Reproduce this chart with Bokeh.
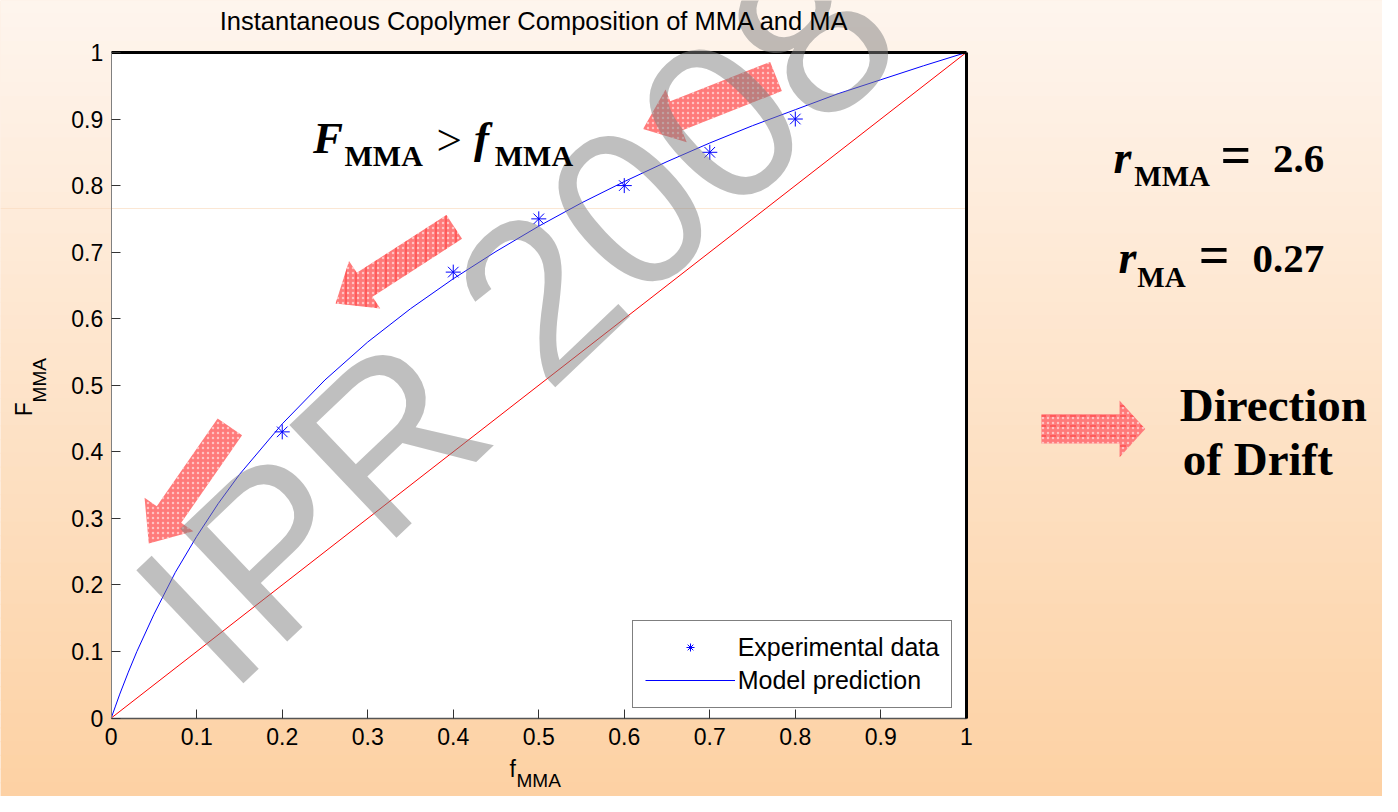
import math
from bokeh.plotting import figure
from bokeh.models import (LinearAxis, FixedTicker, Label, BoxAnnotation, PolyAnnotation,
                          Legend, LegendItem, Range1d)
from bokeh.embed import file_html
from bokeh.resources import INLINE

# ---------------- data ----------------
f_exp = [0.2, 0.4, 0.5, 0.6, 0.7, 0.8]
F_exp = [0.43, 0.67, 0.75, 0.80, 0.85, 0.90]

f_model = [0, 0.005, 0.01, 0.02, 0.03, 0.05, 0.075, 0.1, 0.125, 0.15, 0.2, 0.25, 0.3,
           0.35, 0.4, 0.45, 0.5, 0.55, 0.6, 0.65, 0.7, 0.75, 0.8, 0.85, 0.9, 0.95, 1.0]
F_model = [0, 0.018, 0.036, 0.069, 0.100, 0.156, 0.219, 0.273, 0.322, 0.366, 0.442, 0.508, 0.565,
           0.615, 0.660, 0.701, 0.739, 0.774, 0.806, 0.836, 0.864, 0.890, 0.914, 0.938, 0.959, 0.980, 1.0]

f_equal = [0, 1]
F_equal = [0, 1]

tick_vals = [0, 0.1, 0.2, 0.3, 0.4, 0.5, 0.6, 0.7, 0.8, 0.9, 1]
tick_labels = ["0", "0.1", "0.2", "0.3", "0.4", "0.5", "0.6", "0.7", "0.8", "0.9", "1"]

title_text = "Instantaneous Copolymer Composition of MMA and MA"
legend_labels = ["Experimental data", "Model prediction"]
watermark_text = "IPR 2008"

# ---------------- layout helpers ----------------
W, H = 1382, 796            # canvas; reference is 1398 x 812
RW, RH = 1398, 812
SX, SY = W / RW, H / RH
FL, FT, FR, FB = 112, 53, 977, 732   # plot box in reference pixels


def dx(px):
    return (px - FL) / (FR - FL)


def dy(py):
    return (FB - py) / (FB - FT)


p = figure(width=W, height=H,
           x_range=Range1d(dx(0), dx(RW)), y_range=Range1d(dy(RH), dy(0)),
           output_backend="svg", toolbar_location=None,
           min_border_left=0, min_border_right=0, min_border_top=0, min_border_bottom=0,
           background_fill_color="#FEE4CE", border_fill_color="#FEE4CE",
           outline_line_color=None)
p.title.visible = False
p.grid.visible = False

# ---------------- slide gradient background ----------------
top_c = (254, 245, 238)
bot_c = (253, 209, 163)
nb = 58
for i in range(nb):
    t = (i + 0.5) / nb
    c = tuple(int(round(top_c[k] + (bot_c[k] - top_c[k]) * t)) for k in range(3))
    y0 = i * RH / nb - 0.6
    y1 = (i + 1) * RH / nb + 0.6
    p.add_layout(BoxAnnotation(top=dy(y0), bottom=dy(y1),
                               fill_color="#%02x%02x%02x" % c, fill_alpha=1.0,
                               line_color=None, level="underlay"))
p.add_layout(BoxAnnotation(left=0, right=1, top=1, bottom=0, fill_color="white",
                           fill_alpha=1.0, line_color=None, level="underlay"))
p.add_layout(BoxAnnotation(right=dx(977), top=dy(211.6), bottom=dy(212.6),
                           fill_color="#F9DDC2", fill_alpha=0.7, line_color=None,
                           level="underlay"))

# ---------------- axes (placed at the plot box) ----------------
xa, ya = p.xaxis[0], p.yaxis[0]
xa.fixed_location = 0
ya.fixed_location = 0
for ax in (xa, ya):
    ax.bounds = (0, 1)
    ax.ticker = FixedTicker(ticks=tick_vals)
    ax.major_label_overrides = dict(zip(tick_vals, tick_labels))
    ax.major_label_text_font = "Liberation Sans"
    ax.major_label_text_font_size = "23px"
    ax.major_label_text_color = "black"
    ax.major_tick_in = 9
    ax.major_tick_out = 0
    ax.major_tick_line_color = "#333333"
    ax.minor_tick_line_color = None
ya.major_label_standoff = 8
xa.major_label_standoff = 10
ya.axis_line_color = "#808080"
ya.axis_line_width = 1
xa.axis_line_color = "#555555"
xa.axis_line_width = 1.5

for side in ("above", "right"):
    ax = LinearAxis(ticker=FixedTicker(ticks=[]), axis_line_color="black", axis_line_width=3,
                    major_label_text_font_size="0px", major_tick_line_color=None,
                    minor_tick_line_color=None, fixed_location=1, bounds=(0, 1))
    p.add_layout(ax, side)

# ---------------- data glyphs ----------------
r_equal = p.line(f_equal, F_equal, line_color="#FF0000", line_width=1)
r_model = p.line(f_model, F_model, line_color="#0000FF", line_width=1)
r_exp = p.scatter(f_exp, F_exp, marker="asterisk", size=15, line_color="#0000FF",
                  line_width=1)

# ---------------- drift arrows (decoration) ----------------
arrows = [
    # tail centre, tip, shaft width, head width, head length, extra hatch
    ((232, 435), (150, 554), 30, 60, 36, None),
    ((459, 231), (339, 309), 29, 58, 35, "vertical_line"),
    ((784.5, 77.5), (650, 131), 32, 58, 36, None),
    ((1053, 437), (1158, 437), 30, 58, 26, "horizontal_dash"),
]


def arrow_poly(tail, tip, shaft, head, hl):
    tx, ty = tail
    qx, qy = tip
    L = math.hypot(qx - tx, qy - ty)
    ux, uy = (qx - tx) / L, (qy - ty) / L
    nx, ny = -uy, ux
    bx, by = qx - ux * hl, qy - uy * hl
    pts = [(tx + nx * shaft / 2, ty + ny * shaft / 2),
           (bx + nx * shaft / 2, by + ny * shaft / 2),
           (bx + nx * head / 2, by + ny * head / 2),
           (qx, qy),
           (bx - nx * head / 2, by - ny * head / 2),
           (bx - nx * shaft / 2, by - ny * shaft / 2),
           (tx - nx * shaft / 2, ty - ny * shaft / 2)]
    return [dx(x) for x, _ in pts], [dy(y) for _, y in pts]


for tail, tip, sw, hw, hl, extra in arrows:
    xs, ys = arrow_poly(tail, tip, sw, hw, hl)
    p.add_layout(PolyAnnotation(xs=xs, ys=ys, fill_color="#FF7A7A", fill_alpha=1.0,
                                line_color=None, hatch_pattern="dot", hatch_color="white",
                                hatch_scale=5, hatch_weight=1.3, hatch_alpha=0.55))
    if extra:
        p.add_layout(PolyAnnotation(xs=xs, ys=ys, fill_alpha=0, line_color=None,
                                    hatch_pattern=extra, hatch_color="#FF2020",
                                    hatch_scale=10, hatch_weight=1, hatch_alpha=0.7))

# ---------------- texts ----------------
K_SANS, K_SERIF = 0.377, 0.432   # baseline shift of Bokeh's "alphabetic" anchor (em)


def lab(px, py, text, size, font="Liberation Sans", style="normal", align="left",
        angle_deg=0.0, color="black", alpha=1.0):
    """px, py: baseline start of the text in reference pixels."""
    k = K_SERIF if "Serif" in font else K_SANS
    a = math.radians(angle_deg)
    off = k * size
    ax_ = px - off * math.sin(a) / SX
    ay_ = py - off * math.cos(a) / SY
    p.add_layout(Label(x=dx(ax_), y=dy(ay_), text=text, text_font=font,
                       text_font_size="%gpx" % size, text_font_style=style,
                       text_align=align, text_baseline="alphabetic", angle=a,
                       text_color=color, text_alpha=alpha))


# watermark
lab(235, 716, watermark_text, 226, angle_deg=43.5, color="#808080", alpha=0.5)

lab(540, 31, title_text, 25.5, align="center")
# axis labels
lab(515, 793, "f", 23)
lab(522, 803, "MMA", 19)
lab(33, 424, "F", 23, angle_deg=90)
lab(47, 410, "MMA", 19, angle_deg=90)

serif = "Liberation Serif"
# F_MMA > f_MMA
lab(316, 160, "F", 45, serif, "bold italic")
lab(348, 171, "MMA", 30, serif, "bold")
lab(441, 162, ">", 45, serif, "normal")
lab(479, 160, "f", 45, serif, "bold italic")
lab(500, 171, "MMA", 30, serif, "bold")

# reactivity ratios
lab(1126, 180, "r", 46, serif, "bold italic")
lab(1147, 192, "MMA", 29, serif, "bold")
lab(1234, 181, "=", 54, serif, "bold")
lab(1339, 180, "2.6", 41, serif, "bold", align="right")
lab(1131, 282, "r", 46, serif, "bold italic")
lab(1150, 295, "MA", 29, serif, "bold")
lab(1212, 283, "=", 54, serif, "bold")
lab(1339, 282, "0.27", 41, serif, "bold", align="right")

lab(1193, 433, "Direction", 47, serif, "bold")
lab(1196, 488, "of Drift", 47, serif, "bold")

# ---------------- legend ----------------
legend = Legend(items=[LegendItem(label=legend_labels[0], renderers=[r_exp]),
                       LegendItem(label=legend_labels[1], renderers=[r_model])],
                location=(639 * SX, (RH - 722) * SY), orientation="vertical",
                label_text_font="Liberation Sans", label_text_font_size="25px",
                label_text_color="black", glyph_width=90, glyph_height=20,
                label_standoff=3, padding=12, spacing=4, margin=0,
                border_line_color="black", border_line_width=1,
                background_fill_color="white", background_fill_alpha=1.0)
p.add_layout(legend)

open("out.html", "w").write(file_html(p, INLINE))
